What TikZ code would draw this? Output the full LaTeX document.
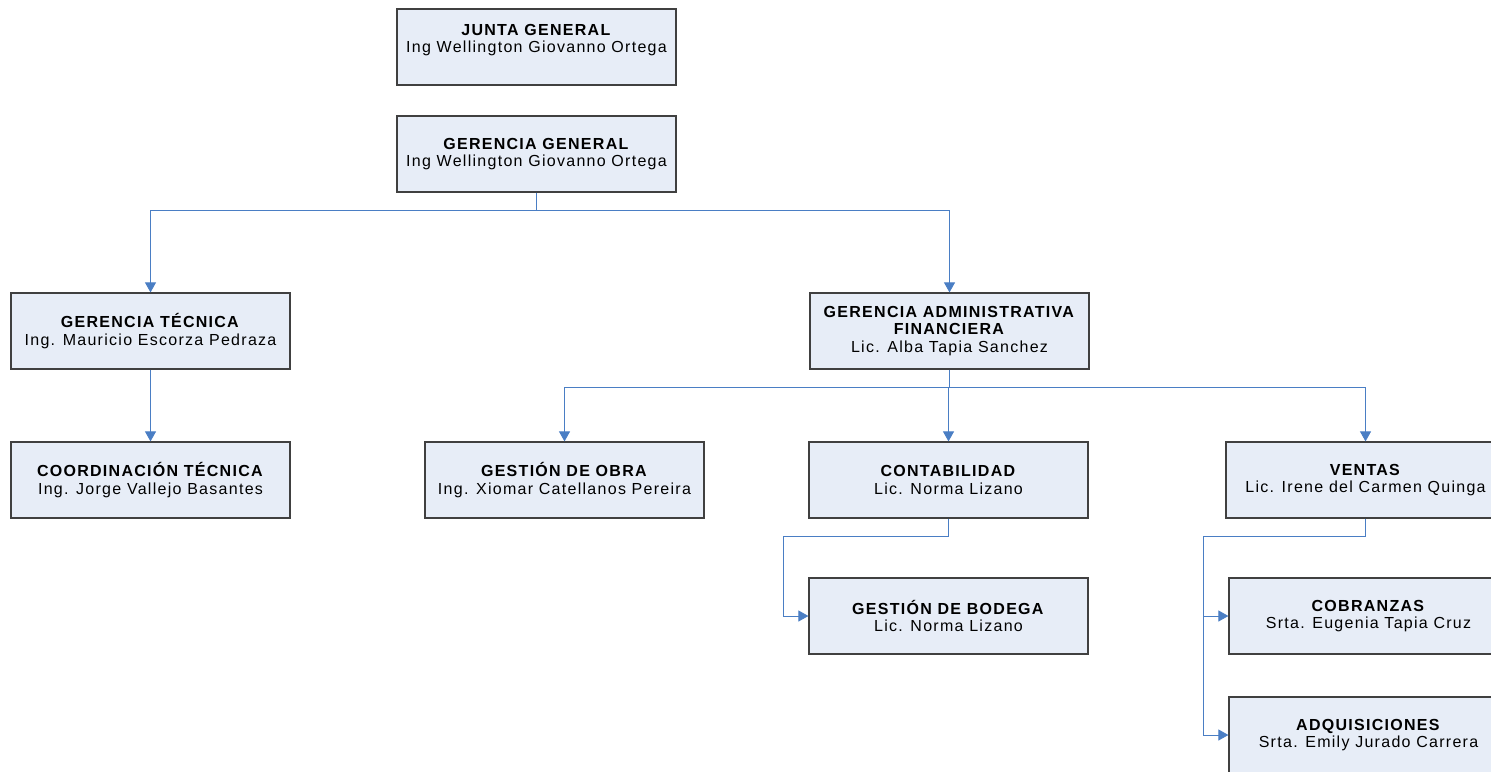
\documentclass[tikz,border=0pt]{standalone}
\usepackage{fontspec}
\setmainfont[LetterSpace=8]{Liberation Sans}
\usetikzlibrary{arrows.meta}
\definecolor{boxfill}{HTML}{E7EDF7}
\definecolor{boxline}{HTML}{404040}
\definecolor{conncol}{HTML}{4A7EC4}
\tikzset{
  orgbox/.style={draw=boxline, line width=1.2pt, fill=boxfill, minimum width=279pt, minimum height=76pt,
    inner sep=0pt, align=center, font=\fontsize{16}{17.5}\selectfont},
  conn/.style={draw=conncol, line width=0.9pt},
  arr/.style={conn, -{Triangle[width=11pt,length=10pt]}}
}
\newcommand{\ttl}[1]{\textbf{#1}}
\begin{document}
\begin{tikzpicture}[x=1pt,y=-1pt]
\useasboundingbox (0,0) rectangle (1491,771);
\clip (0,0) rectangle (1491,771);
\node[orgbox] (junta) at (536.5,47) {\ttl{JUNTA GENERAL}\\Ing Wellington Giovanno Ortega\\ \mbox{}};
\node[orgbox] (gg) at (536.5,154) {\ttl{GERENCIA GENERAL}\\Ing Wellington Giovanno Ortega};
\node[orgbox] (gt) at (150.5,331) {\ttl{GERENCIA TÉCNICA}\\Ing. Mauricio Escorza Pedraza};
\node[orgbox] (gaf) at (949.5,331) {\ttl{GERENCIA ADMINISTRATIVA}\\\ttl{FINANCIERA}\\Lic. Alba Tapia Sanchez};
\node[orgbox] (ct) at (150.5,480) {\ttl{COORDINACIÓN TÉCNICA}\\Ing. Jorge Vallejo Basantes};
\node[orgbox] (go) at (564.5,480) {\ttl{GESTIÓN DE OBRA}\\Ing. Xiomar Catellanos Pereira};
\node[orgbox] (cont) at (948.5,480) {\ttl{CONTABILIDAD}\\Lic. Norma Lizano};
\node[orgbox] (ven) at (1365.5,480) {\ttl{VENTAS}\\Lic. Irene del Carmen Quinga};
\node[orgbox] (bod) at (948.5,616) {\ttl{GESTIÓN DE BODEGA}\\Lic. Norma Lizano};
\node[orgbox] (cob) at (1368.5,616) {\ttl{COBRANZAS}\\Srta. Eugenia Tapia Cruz};
\node[orgbox] (adq) at (1368.5,735) {\ttl{ADQUISICIONES}\\Srta. Emily Jurado Carrera};
% connectors
\draw[conn] (gg.south) -- ++(0,18) coordinate (ggbus);
\draw[arr] (ggbus) -| (gt.north);
\draw[arr] (ggbus) -| (gaf.north);
\draw[arr] (gt.south) -- (ct.north);
\draw[conn] (gaf.south) -- ++(0,18) coordinate (gafbus);
\draw[arr] (gafbus) -| (go.north);
\draw[arr] (gafbus) -| (cont.north);
\draw[arr] (gafbus) -| (ven.north);
\draw[arr] (cont.south) -- ++(0,18) -| ([xshift=-25pt]bod.west) -- (bod.west);
\draw[arr] (ven.south) -- ++(0,18) -| ([xshift=-25pt]adq.west) -- (adq.west);
\draw[arr] ([xshift=-25pt]cob.west) -- (cob.west);
\end{tikzpicture}
\end{document}
